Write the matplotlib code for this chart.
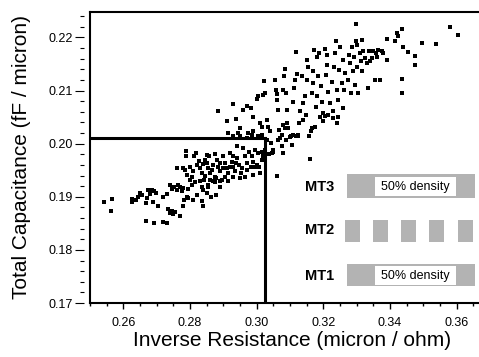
import numpy as np
import matplotlib.pyplot as plt
from matplotlib.patches import Rectangle
from matplotlib.ticker import MultipleLocator

plt.rcParams['font.family'] = ['Liberation Sans', 'DejaVu Sans']

# inverse resistance (micron / ohm) vs total capacitance (fF / micron)
inv_res = [
    0.2543, 0.2567, 0.2563, 0.2625, 0.2627, 0.2637, 0.2645, 0.2650, 0.2655, 0.2668,
    0.2670, 0.2675, 0.2680, 0.2685, 0.2690, 0.2693, 0.2697, 0.2705, 0.2668, 0.2692,
    0.2718, 0.2732, 0.2720, 0.2730, 0.2735, 0.2740, 0.2745, 0.2750, 0.2755, 0.2770,
    0.2740, 0.2747, 0.2752, 0.2760, 0.2765, 0.2770, 0.2775, 0.2780, 0.2782, 0.2790,
    0.2795, 0.2800, 0.2805, 0.2810, 0.2815, 0.2780, 0.2795, 0.2820, 0.2835, 0.2838,
    0.2840, 0.2850, 0.2855, 0.2862, 0.2878, 0.2890,
    0.2788, 0.2788, 0.2818, 0.2850, 0.2760, 0.2778, 0.2785, 0.2800, 0.2808, 0.2820,
    0.2830, 0.2835, 0.2845, 0.2850, 0.2855, 0.2860, 0.2865, 0.2870, 0.2875, 0.2880,
    0.2885, 0.2890, 0.2895, 0.2900, 0.2905, 0.2910, 0.2915, 0.2920, 0.2925, 0.2930,
    0.2935, 0.2940, 0.2942, 0.2948, 0.2952, 0.2958, 0.2965, 0.2970, 0.2972, 0.2978,
    0.2982, 0.2990, 0.2995, 0.3000, 0.3005, 0.3010, 0.3015, 0.2830, 0.2842, 0.2855,
    0.2868, 0.2878, 0.2845, 0.2860, 0.2890, 0.2905, 0.2965, 0.2930, 0.3017, 0.3025,
    0.2813, 0.2828, 0.2838, 0.2858, 0.2875, 0.2890, 0.2898, 0.2920, 0.2928, 0.2938,
    0.2955, 0.2985, 0.2995, 0.3020, 0.2835, 0.2805, 0.2790, 0.2875, 0.2915, 0.2950,
    0.2990, 0.3008,
    0.2915, 0.2930, 0.2945, 0.2950, 0.2970, 0.2975, 0.2985, 0.2990, 0.3005, 0.3015,
    0.2885, 0.2910, 0.2930, 0.2938, 0.2950, 0.2960, 0.2970, 0.2982, 0.2990, 0.3000,
    0.3005, 0.3010, 0.3015, 0.3020, 0.3025, 0.3022, 0.3030, 0.3035, 0.3040, 0.3030,
    0.3042, 0.3045, 0.3048, 0.3055, 0.3058, 0.3060, 0.3062, 0.3065, 0.3068, 0.3070,
    0.3075, 0.3078, 0.3060, 0.3080, 0.3082, 0.3085, 0.3088, 0.3090, 0.3092, 0.3095,
    0.3100, 0.3105, 0.3108, 0.3110, 0.3112, 0.3115, 0.3118, 0.3120, 0.3123, 0.3127,
    0.3130, 0.3135, 0.3138, 0.3140, 0.3145, 0.3148, 0.3150, 0.3152, 0.3155, 0.3158,
    0.3160, 0.3162, 0.3165, 0.3168, 0.3170, 0.3172, 0.3175, 0.3178, 0.3180, 0.3182,
    0.3185, 0.3188, 0.3190, 0.3192, 0.3195, 0.3200, 0.3205, 0.3208, 0.3210, 0.3212,
    0.3215, 0.3220, 0.3225, 0.3228, 0.3230, 0.3232, 0.3235, 0.3238, 0.3240, 0.3242,
    0.3245, 0.3248, 0.3250, 0.3255, 0.3258, 0.3260, 0.3262, 0.3265, 0.3275, 0.3278,
    0.3280, 0.3282, 0.3285, 0.3290, 0.3292, 0.3295, 0.3297, 0.3298, 0.3300, 0.3302,
    0.3305, 0.3310, 0.3312, 0.3315, 0.3317, 0.3320, 0.3325, 0.3330, 0.3335, 0.3338,
    0.3340, 0.3345, 0.3355, 0.3358, 0.3370, 0.3375, 0.3380, 0.3390, 0.3392, 0.3415,
    0.3420, 0.3425, 0.3435, 0.3435, 0.3435, 0.3440, 0.3455, 0.3475, 0.3475, 0.3495,
    0.3538, 0.3580, 0.3605, 0.3350, 0.3360, 0.3365,
    0.3103, 0.3118, 0.3125, 0.3165, 0.3200, 0.3205, 0.3215, 0.3245, 0.3038, 0.3050,
    0.3065, 0.3075, 0.3080, 0.3085, 0.3088,
]
capacitance = [
    0.1890, 0.1896, 0.1873, 0.1895, 0.1890, 0.1894, 0.1899, 0.1908, 0.1904, 0.1889,
    0.1897, 0.1912, 0.1905, 0.1913, 0.1891, 0.1910, 0.1907, 0.1883, 0.1855, 0.1850,
    0.1853, 0.1850, 0.1900, 0.1905, 0.1877, 0.1869, 0.1874, 0.1868, 0.1872, 0.1864,
    0.1922, 0.1914, 0.1919, 0.1913, 0.1922, 0.1919, 0.1910, 0.1916, 0.1894, 0.1900,
    0.1914, 0.1932, 0.1922, 0.1894, 0.1927, 0.1883, 0.1897, 0.1904, 0.1893, 0.1883,
    0.1912, 0.1907, 0.1918, 0.1900, 0.1904, 0.1919,
    0.1987, 0.1976, 0.1982, 0.1979, 0.1954, 0.1954, 0.1951, 0.1957, 0.1948, 0.1960,
    0.1954, 0.1944, 0.1970, 0.1963, 0.1954, 0.1944, 0.1951, 0.1960, 0.1938, 0.1970,
    0.1957, 0.1948, 0.1932, 0.1976, 0.1963, 0.1954, 0.1944, 0.1982, 0.1966, 0.1957,
    0.1948, 0.1995, 0.1973, 0.1960, 0.1944, 0.1992, 0.1976, 0.1963, 0.1951, 0.1985,
    0.1957, 0.1966, 0.1988, 0.1960, 0.1982, 0.1944, 0.1970, 0.1929, 0.1932, 0.1922,
    0.1929, 0.1935, 0.1939, 0.1932, 0.1929, 0.1938, 0.1938, 0.1938, 0.1985, 0.1988,
    0.1976, 0.1968, 0.1962, 0.1976, 0.1981, 0.1963, 0.1954, 0.1957, 0.1976, 0.1963,
    0.1954, 0.1976, 0.1957, 0.1976, 0.1919, 0.1938, 0.1941, 0.1927, 0.1929, 0.1935,
    0.1941, 0.1957,
    0.2021, 0.2014, 0.2020, 0.2015, 0.2010, 0.2020, 0.2017, 0.2023, 0.2014, 0.2017,
    0.2062, 0.2042, 0.2074, 0.2046, 0.2029, 0.2064, 0.2071, 0.2067, 0.2051, 0.2084,
    0.2089, 0.2039, 0.2032, 0.2092, 0.2096, 0.2118, 0.2045, 0.2032, 0.2023, 0.2007,
    0.2001, 0.1982, 0.1988, 0.2120, 0.2101, 0.2083, 0.2093, 0.2064, 0.2026, 0.2010,
    0.1995, 0.1982, 0.1939, 0.2101, 0.2127, 0.2141, 0.2095, 0.2064, 0.2039, 0.2029,
    0.2012, 0.1998, 0.2017, 0.2079, 0.2105, 0.2120, 0.2172, 0.2132, 0.2014, 0.2039,
    0.2061, 0.2127, 0.2045, 0.2076, 0.2089, 0.2054, 0.2120, 0.2158, 0.2145, 0.2014,
    0.1971, 0.2023, 0.2095, 0.2114, 0.2136, 0.2177, 0.2032, 0.2070, 0.2164, 0.2089,
    0.2127, 0.2171, 0.2051, 0.2108, 0.2079, 0.2057, 0.2178, 0.2130, 0.2149, 0.2167,
    0.2098, 0.2076, 0.2117, 0.2061, 0.2048, 0.2145, 0.2171, 0.2194, 0.2101, 0.2039,
    0.2083, 0.2139, 0.2183, 0.2114, 0.2067, 0.2158, 0.2101, 0.2133, 0.2120, 0.2167,
    0.2152, 0.2095, 0.2183, 0.2136, 0.2164, 0.2111, 0.2225, 0.2193, 0.2145, 0.2186,
    0.2095, 0.2171, 0.2155, 0.2196, 0.2136, 0.2174, 0.2161, 0.2152, 0.2105, 0.2174,
    0.2155, 0.2161, 0.2120, 0.2171, 0.2120, 0.2174, 0.2171, 0.2158, 0.2197, 0.2193,
    0.2208, 0.2203, 0.2216, 0.2122, 0.2095, 0.2183, 0.2172, 0.2166, 0.2149, 0.2189,
    0.2188, 0.2219, 0.2205, 0.2174, 0.2164, 0.2177,
    0.2014, 0.2014, 0.2017, 0.2029, 0.2042, 0.2052, 0.2054, 0.2051, 0.1980, 0.1985,
    0.2007, 0.2017, 0.2035, 0.2029, 0.2007,
]

target_res = 0.3025
target_cap = 0.201

x_ticks = [0.26, 0.28, 0.30, 0.32, 0.34, 0.36]
x_ticklabels = ['0.26', '0.28', '0.30', '0.32', '0.34', '0.36']
y_ticks = [0.17, 0.18, 0.19, 0.20, 0.21, 0.22]
y_ticklabels = ['0.17', '0.18', '0.19', '0.20', '0.21', '0.22']

layers = ['MT3', 'MT2', 'MT1']
density_note = '50% density'

W, H = 479, 357
fig = plt.figure(figsize=(W / 100, H / 100), dpi=100)
ax = fig.add_axes([90 / W, 1 - 303 / H, 1 - 90 / W, (303 - 12) / H])

ax.scatter(inv_res, capacitance, marker='s', s=12, color='black', linewidths=0, zorder=3)

x0, x1 = 0.25, 0.3667
y0, y1 = 0.17, 0.2248
ax.set_xlim(x0, x1)
ax.set_ylim(y0, y1)

# target lines
ax.plot([x0, target_res], [target_cap, target_cap], color='black', lw=2.2, zorder=4)
ax.plot([target_res, target_res], [y0, target_cap], color='black', lw=2.2, zorder=4)

ax.spines['right'].set_visible(False)
for side in ['top', 'bottom']:
    ax.spines[side].set_linewidth(1.5)
# left spine drawn by hand so the ticks sit a little off it
ax.spines['left'].set_position(('outward', 4))
ax.spines['left'].set_color('none')
ax.axvline(x0, color='black', lw=1.5, clip_on=False, zorder=5)

ax.set_xticks(x_ticks)
ax.set_xticklabels(x_ticklabels)
ax.xaxis.set_minor_locator(MultipleLocator(0.005))
ax.set_yticks(y_ticks)
ax.set_yticklabels(y_ticklabels)
ax.yaxis.set_minor_locator(MultipleLocator(0.002))
ax.tick_params(axis='x', which='major', direction='out', length=4, width=1.0, labelsize=9, pad=6)
ax.tick_params(axis='x', which='minor', direction='out', length=2.5, width=1.0)
ax.tick_params(axis='y', which='major', direction='out', length=6.5, width=0.8, labelsize=9, pad=2)
ax.tick_params(axis='y', which='minor', direction='out', length=3, width=0.8)

fig.text(292 / W, 1 - 340 / H, 'Inverse Resistance (micron / ohm)', fontsize=15,
         ha='center', va='center')
fig.text(22 / W, 1 - 157 / H, 'Total Capacitance (fF / micron)', fontsize=15,
         ha='center', va='center', rotation=90)

# metal layer sketch
gray = '#b3b3b3'


def fig_rect(xl, yt, xr, yb, color):
    fig.patches.append(Rectangle((xl / W, 1 - yb / H), (xr - xl) / W, (yb - yt) / H,
                                 transform=fig.transFigure, facecolor=color,
                                 edgecolor='none', zorder=6))


label_rows = [187, 230, 276]
for name, yc in zip(layers, label_rows):
    fig.text(305 / W, 1 - yc / H, name, fontsize=10.5, fontweight='bold',
             ha='left', va='center', zorder=7)

# MT3 and MT1: solid bars with a note
for yt, yb, wt, wb, yc in [(174, 198, 177, 196, 187), (264, 286, 266, 285, 276)]:
    fig_rect(347, yt, 475, yb, gray)
    fig_rect(375, wt, 456, wb, 'white')
    fig.text(415.5 / W, 1 - yc / H, density_note, fontsize=9, ha='center', va='center', zorder=7)

# MT2: broken segments
for xl in [345, 373, 401, 429, 458]:
    fig_rect(xl, 220, xl + 15, 242, gray)

fig.savefig('out.png', dpi=100)
